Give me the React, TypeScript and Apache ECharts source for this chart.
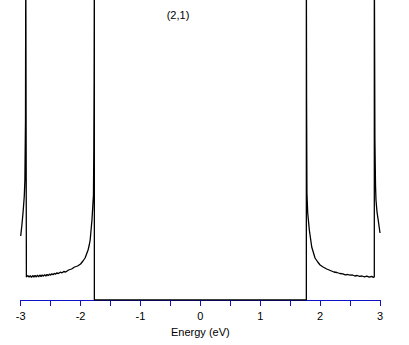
import React, { useEffect, useRef } from "react";
import * as echarts from "echarts";

// Energy (eV) and density-of-states values
const energy: number[] = [
  -3.0, -2.98, -2.96, -2.94, -2.93, -2.92, -2.915, -2.905, -2.905,
  -2.9, -2.88, -2.86, -2.84, -2.82, -2.8, -2.78, -2.76, -2.74, -2.72, -2.7,
  -2.68, -2.66, -2.64, -2.62, -2.6, -2.58, -2.56, -2.54, -2.52, -2.5,
  -2.48, -2.46, -2.44, -2.42, -2.4, -2.37, -2.34, -2.31, -2.28, -2.25,
  -2.2, -2.15, -2.1, -2.05, -2.0, -1.96, -1.925, -1.9, -1.875, -1.855, -1.84,
  -1.825, -1.81, -1.795, -1.785, -1.779, -1.774, -1.77, -1.77,
  0,
  1.77, 1.77, 1.774, 1.78, 1.793, 1.82, 1.86, 1.915, 1.96, 2.0, 2.05, 2.11,
  2.17, 2.23, 2.28, 2.33, 2.38, 2.42, 2.46, 2.5, 2.54, 2.58, 2.62, 2.66,
  2.7, 2.74, 2.78, 2.82, 2.86, 2.89, 2.905, 2.905, 2.915, 2.925, 2.933,
  2.95, 2.97, 3.0,
];

const dos: number[] = [
  0.64, 0.75, 0.88, 1.04, 1.2, 1.8, 3.5, 3.5, 0.23,
  0.225, 0.245, 0.228, 0.243, 0.226, 0.245, 0.23, 0.246, 0.23, 0.248, 0.232,
  0.25, 0.235, 0.25, 0.238, 0.254, 0.24, 0.256, 0.243, 0.26, 0.248,
  0.263, 0.252, 0.267, 0.258, 0.27, 0.265, 0.278, 0.272, 0.285, 0.28,
  0.3, 0.31, 0.33, 0.34, 0.36, 0.39, 0.42, 0.46, 0.5, 0.55, 0.6,
  0.7, 0.8, 0.95, 1.05, 1.5, 2.2, 3.5, 0,
  0,
  0, 3.5, 2.0, 1.07, 0.87, 0.7, 0.53, 0.42, 0.38, 0.35, 0.33, 0.31,
  0.295, 0.28, 0.275, 0.265, 0.262, 0.252, 0.255, 0.248, 0.25, 0.24, 0.245,
  0.236, 0.24, 0.232, 0.238, 0.228, 0.236, 0.226, 0.233, 3.5, 1.6, 1.15, 1.0,
  0.88, 0.8, 0.67,
];

const xTicks: number[] = [-3, -2, -1, 0, 1, 2, 3];
const chartTitle = "(2,1)";
const xName = "Energy (eV)";

export default function App() {
  const ref = useRef<HTMLDivElement>(null);
  useEffect(() => {
    if (!ref.current) return;
    const chart = echarts.init(ref.current, null, { renderer: "svg" });
    const data = energy.map((e, i) => [e, dos[i]]);
    const font = "'Liberation Sans', Arial, sans-serif";
    chart.setOption({
      animation: false,
      backgroundColor: "#ffffff",
      grid: { left: 20.7, right: 29, top: 0, bottom: 45 },
      graphic: [
        {
          type: "text",
          x: 178,
          y: 15,
          style: {
            text: chartTitle,
            fill: "#000",
            fontSize: 11,
            fontFamily: font,
            align: "center",
            verticalAlign: "middle",
          },
        },
      ],
      xAxis: {
        type: "value",
        min: xTicks[0],
        max: xTicks[xTicks.length - 1],
        interval: 0.5,
        name: xName,
        nameLocation: "middle",
        nameGap: 26,
        nameTextStyle: { color: "#000", fontSize: 11, fontFamily: font },
        axisLine: { show: true, lineStyle: { color: "#1010c8", width: 1 } },
        axisTick: { show: true, length: 6, lineStyle: { color: "#1010c8" } },
        axisLabel: {
          color: "#000",
          fontSize: 11,
          fontFamily: font,
          margin: 10,
          formatter: (v: number) =>
            xTicks.includes(v) ? String(v) : "",
        },
        splitLine: { show: false },
      },
      yAxis: {
        type: "value",
        min: 0,
        max: 3,
        show: false,
      },
      series: [
        {
          type: "line",
          data,
          showSymbol: false,
          symbol: "none",
          clip: true,
          lineStyle: { color: "#000", width: 1.3 },
        },
      ],
    });
    return () => chart.dispose();
  }, []);
  return (
    <div
      ref={ref}
      style={{ position: "fixed", left: 0, top: 0, width: 409, height: 345 }}
    />
  );
}
